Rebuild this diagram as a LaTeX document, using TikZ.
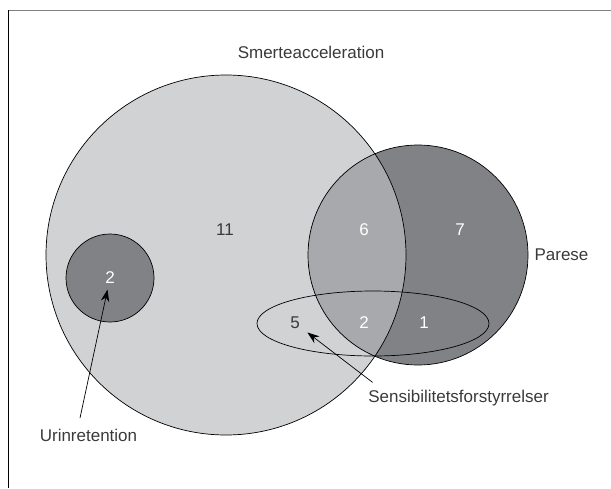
\documentclass[tikz,border=0pt]{standalone}
\usepackage{fontspec}
\setmainfont{Liberation Sans}
\usetikzlibrary{arrows.meta}

\definecolor{light}{HTML}{D1D2D4}
\definecolor{mid}{HTML}{A7A9AC}
\definecolor{dark}{HTML}{808285}
\definecolor{ink}{HTML}{3A3A3A}

\begin{document}
\begin{tikzpicture}
  [
    x=1pt, y=-1pt,
    >={Stealth[length=12pt,width=8.5pt]},
    line width=0.7pt,
    text node/.style={font=\fontsize{17}{20}\selectfont, text=ink},
    white node/.style={text node, text=white}
    ]

  \useasboundingbox (0,0) rectangle (611,488);
  \draw[gray] (8,10) -- (611,10);
  \draw (8,10) -- (8,488);

  \coordinate (S) at (226,255);
  \coordinate (P) at (418,255);
  \coordinate (U) at (110,278);
  \coordinate (F) at (373,323.5);

  \fill[light] (S) circle (180pt);
  \fill[dark] (P) circle (110pt);
  \begin{scope}
    \clip (S) circle (180pt);
    \fill[mid] (P) circle (110pt);
  \end{scope}
  \draw (S) circle (180pt);
  \draw (P) circle (110pt);
  \draw[fill=dark] (U) circle (44pt);
  \draw (F) ellipse (116pt and 32.5pt);

  \node[text node] (11) at (225,230) {11};
  \node[white node] (6) at (364,230) {6};
  \node[white node] (7) at (460,230) {7};
  \node[white node] (2a) at (110,278) {2};
  \node[text node] (5) at (295,323) {5};
  \node[white node] (2b) at (364,323) {2};
  \node[white node] (1) at (424,323) {1};

  \node[text node] (smerte) at (311,52) {Smerteacceleration};
  \node[text node] (parese) at (561.5,255) {Parese};
  \node[text node] (sens) at (458.5,398) {Sensibilitetsforstyrrelser};
  \node[text node] (urin) at (88.5,435) {Urinretention};

  \draw[->, shorten >=2pt] ([xshift=-8.5pt,yshift=7pt]urin.north) -- (2a);
  \draw[->, shorten >=5pt] ([xshift=8pt,yshift=4pt]sens.north west) -- (5);
\end{tikzpicture}
\end{document}
